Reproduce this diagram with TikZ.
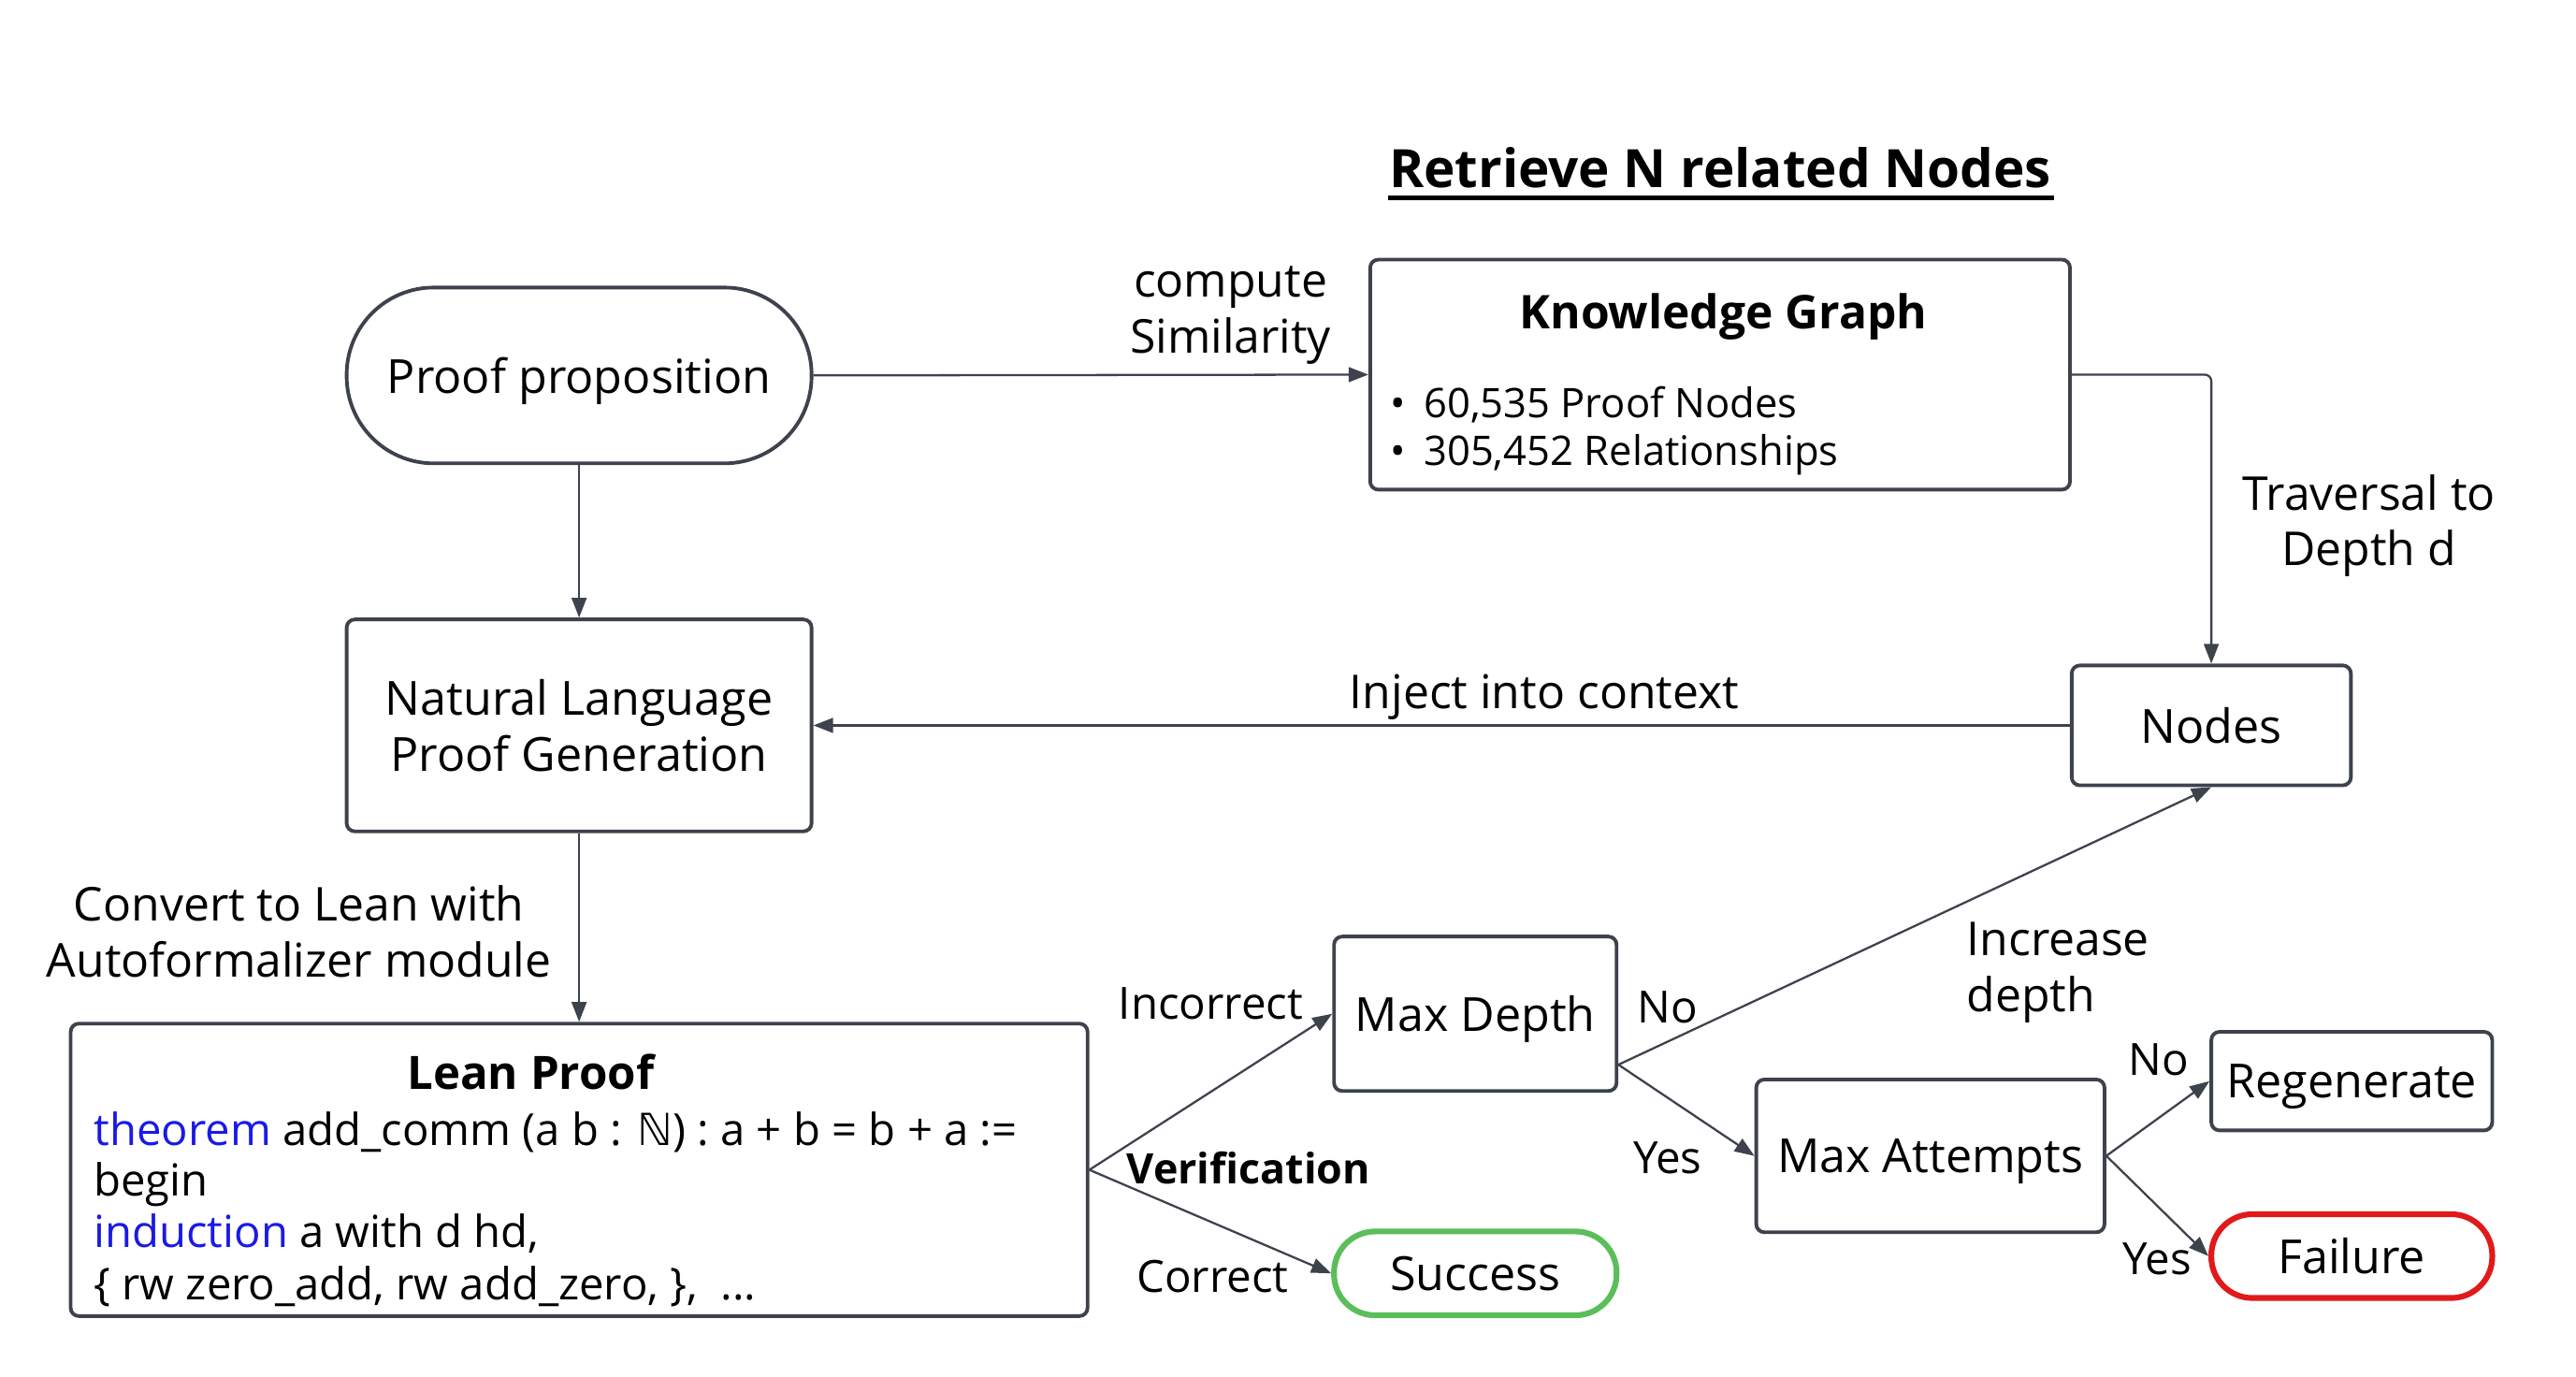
\documentclass[tikz,border=0pt]{standalone}
\usepackage{fontspec}
\setmainfont{Open Sans}
\newfontfamily\dblfont{DejaVu Sans}
\usetikzlibrary{arrows.meta,calc}
\definecolor{edgegray}{HTML}{3D424D}
\definecolor{okgreen}{HTML}{5BBE5B}
\definecolor{badred}{HTML}{E01A1A}
\definecolor{codeblue}{HTML}{1A1AE6}
\tikzset{
  box/.style={draw=edgegray, line width=2.2pt, rounded corners=5pt, inner sep=0pt, align=center, text depth=0pt, font=\fontsize{28.6}{34}\selectfont},
  pill/.style={box, rounded corners=#1},
  flow/.style={draw=edgegray, line width=1.3pt, -{Triangle[length=12pt,width=9pt]}},
  lbl/.style={inner sep=0pt, align=center, font=\fontsize{28.4}{34}\selectfont},
  smalllbl/.style={lbl, font=\fontsize{27}{34}\selectfont},
  codeline/.style={inner sep=0pt, anchor=base west, font=\fontsize{26.9}{31}\selectfont},
}

\begin{document}
\begin{tikzpicture}[x=1pt,y=-1pt]
			%%%%% START %%%%%
			\useasboundingbox (0,0) rectangle (1568,838.08);
			
			\node[font=\bfseries\fontsize{32.2}{36}\selectfont, inner sep=0pt] (title) at (1047,102) {Retrieve N related Nodes};
			\draw[line width=3pt] (845,120.5) -- (1250,120.5);
			
			\node[pill=53pt, minimum width=283pt, minimum height=107pt] (prop) at (352.5,228.5) {Proof proposition};
			
			\node[box, minimum width=426pt, minimum height=140pt] (kg) at (1047,228) {};
			\node[font=\bfseries\fontsize{28.3}{34}\selectfont, inner sep=0pt] (kgtitle) at (1049,193) {Knowledge Graph};
			\node[inner sep=0pt, anchor=west, align=left, font=\fontsize{24.8}{29}\selectfont] (kgfacts) at (846,262) {•\hspace{0.45em}60,535 Proof Nodes\\•\hspace{0.45em}305,452 Relationships};
			
			\node[box, minimum width=283pt, minimum height=129pt] (nlgen) at (352.5,441.5) {Natural Language\\Proof Generation};
			\node[box, minimum width=170pt, minimum height=73pt] (nodes) at (1346,441.5) {Nodes};
			
			\node[box, minimum width=619pt, minimum height=178pt] (lean) at (352.5,712) {};
			\node[font=\bfseries\fontsize{28}{34}\selectfont, inner sep=0pt, anchor=base] (leantitle) at (323,663) {Lean Proof};
			\node[codeline] (code1) at (57,697) {\textcolor{codeblue}{theorem} add\_comm (a b : {\dblfont ℕ}) : a + b = b + a :=};
			\node[codeline] (code2) at (57,728) {begin};
			\node[codeline] (code3) at (57,759) {\textcolor{codeblue}{induction} a with d hd,};
			\node[codeline] (code4) at (57,791) {\{ rw zero\_add, rw add\_zero, \},\ \ ...};
			
			\node[box, minimum width=172pt, minimum height=94pt] (maxdepth) at (898,617) {Max Depth};
			\node[pill=25pt, draw=okgreen, line width=3.5pt, minimum width=172pt, minimum height=51pt] (success) at (898,775) {Success};
			\node[box, minimum width=212pt, minimum height=93pt] (maxatt) at (1175,703.5) {Max Attempts};
			\node[box, minimum width=171pt, minimum height=60pt] (regen) at (1431.5,658) {Regenerate};
			\node[pill=25pt, draw=badred, line width=3.5pt, minimum width=171pt, minimum height=51pt] (failure) at (1431.5,764.5) {Failure};
			
			% connectors
			\draw[flow] (prop.east) -- (kg.west);
			\draw[flow, rounded corners=4pt] (kg.east) -| (nodes.north);
			\draw[flow] (prop.south) -- (nlgen.north);
			\draw[flow] (nodes.west) -- (nlgen.east);
			\draw[flow] (nlgen.south) -- (lean.north);
			\draw[flow] (lean.east) -- (maxdepth.west);
			\draw[flow] (lean.east) -- (success.west);
			\coordinate (mdout) at ([yshift=-31pt]maxdepth.east);
			\draw[flow] (mdout) -- (nodes.south);
			\draw[flow] (mdout) -- (maxatt.west);
			\draw[flow] (maxatt.east) -- (regen.west);
			\draw[flow] (maxatt.east) -- (failure.west);
			
			% labels
			\node[lbl] (simlbl) at (749,192) {compute\\Similarity};
			\node[lbl] (travlbl) at (1442,320) {Traversal to\\Depth d};
			\node[lbl] (injlbl) at (940,424) {Inject into context};
			\node[lbl] (convlbl) at (182,567) {Convert to Lean with\\Autoformalizer module};
			\node[smalllbl] (incolbl) at (737,611) {Incorrect};
			\node[lbl, font=\bfseries\fontsize{25.5}{34}\selectfont] (veriflbl) at (760,711) {Verification};
			\node[smalllbl] (corrlbl) at (738,777) {Correct};
			\node[smalllbl] (nolbl) at (1015,613) {No};
			\node[smalllbl] (yeslbl) at (1015,705) {Yes};
			\node[lbl, anchor=west, align=left] (deplbl) at (1197,592) {Increase\\depth};
			\node[smalllbl] (regnolbl) at (1314,645) {No};
			\node[smalllbl] (failyeslbl) at (1313,766) {Yes};
			%%%%% END %%%%%
\end{tikzpicture}
\end{document}
